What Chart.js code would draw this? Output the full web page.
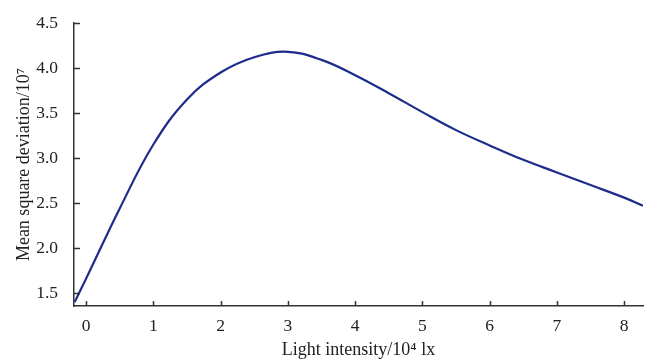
<!DOCTYPE html>
<html>
<head>
<meta charset="utf-8">
<script src="https://cdn.jsdelivr.net/npm/chart.js@4.4.0/dist/chart.umd.min.js"></script>
<style>
  html, body { margin: 0; padding: 0; background: #fff; }
  #wrap { width: 645px; height: 360px; position: relative; }
</style>
</head>
<body>
<div id="wrap"><canvas id="chart"></canvas></div>
<script>
// light intensity (10^4 lx) and mean square deviation (10^7)
const lightIntensity = [-0.17, 0, 0.5, 1, 1.5, 2, 2.5, 3, 3.5, 4, 4.5, 5, 5.5, 6, 6.5, 7, 7.5, 8, 8.28];
const meanSquareDev = [1.40, 1.66, 2.44, 3.15, 3.65, 3.95, 4.12, 4.18, 4.09, 3.92, 3.72, 3.51, 3.31, 3.14, 2.98, 2.84, 2.7, 2.56, 2.47];
const xTicks = [0, 1, 2, 3, 4, 5, 6, 7, 8];
const yTicks = [1.5, 2.0, 2.5, 3.0, 3.5, 4.0, 4.5];

const axisColor = '#333';
const textColor = '#222';
const serif = "'Liberation Serif', 'DejaVu Serif', serif";

// ticks in this figure point into the plot area
const innerTicks = {
    id: 'innerTicks',
    afterDraw(chart) {
        const ctx = chart.ctx;
        const xs = chart.scales.x;
        const ys = chart.scales.y;
        ctx.save();
        ctx.strokeStyle = axisColor;
        ctx.lineWidth = 1.5;
        ctx.beginPath();
        xTicks.forEach(v => {
            const px = Math.round(xs.getPixelForValue(v)) + 0.5;
            ctx.moveTo(px, ys.bottom);
            ctx.lineTo(px, ys.bottom - 5);
        });
        yTicks.forEach(v => {
            const py = Math.round(ys.getPixelForValue(v)) + 0.5;
            ctx.moveTo(xs.left, py);
            ctx.lineTo(xs.left + 6, py);
        });
        ctx.stroke();
        ctx.restore();
    }
};

const ctx = document.getElementById('chart').getContext('2d');
new Chart(ctx, {
    type: 'scatter',
    data: {
        datasets: [{
            data: lightIntensity.map((x, i) => ({ x: x, y: meanSquareDev[i] })),
            showLine: true,
            borderColor: '#1c2b8c',
            borderWidth: 2.2,
            pointRadius: 0,
            tension: 0.4,
            fill: false
        }]
    },
    options: {
        responsive: true,
        maintainAspectRatio: false,
        animation: false,
        layout: {
            padding: { top: 23, right: 2, left: 0, bottom: 0 }
        },
        plugins: {
            legend: { display: false },
            tooltip: { enabled: false }
        },
        scales: {
            x: {
                type: 'linear',
                min: -0.18,
                max: 8.28,
                afterBuildTicks: scale => { scale.ticks = xTicks.map(v => ({ value: v })); },
                afterFit: scale => { scale.height = 54; },
                grid: { display: false },
                border: { display: true, color: axisColor, width: 1.5 },
                ticks: {
                    color: textColor,
                    padding: 2,
                    font: { family: serif, size: 17.5 },
                    callback: v => String(v)
                },
                title: {
                    display: true,
                    text: 'Light intensity/10\u2074 lx',
                    color: textColor,
                    padding: { top: 0, bottom: -1 },
                    font: { family: serif, size: 18 }
                }
            },
            y: {
                type: 'linear',
                min: 1.356,
                max: 4.5,
                afterBuildTicks: scale => { scale.ticks = yTicks.map(v => ({ value: v })); },
                afterFit: scale => { scale.width = 74; },
                grid: { display: false },
                border: { display: true, color: axisColor, width: 1.5 },
                ticks: {
                    color: textColor,
                    padding: 8,
                    font: { family: serif, size: 17.5 },
                    callback: v => v.toFixed(1)
                },
                title: {
                    display: true,
                    text: 'Mean square deviation/10\u2077',
                    color: textColor,
                    padding: { top: 13, bottom: 0 },
                    font: { family: serif, size: 18 }
                }
            }
        }
    },
    plugins: [innerTicks]
});
</script>
</body>
</html>
